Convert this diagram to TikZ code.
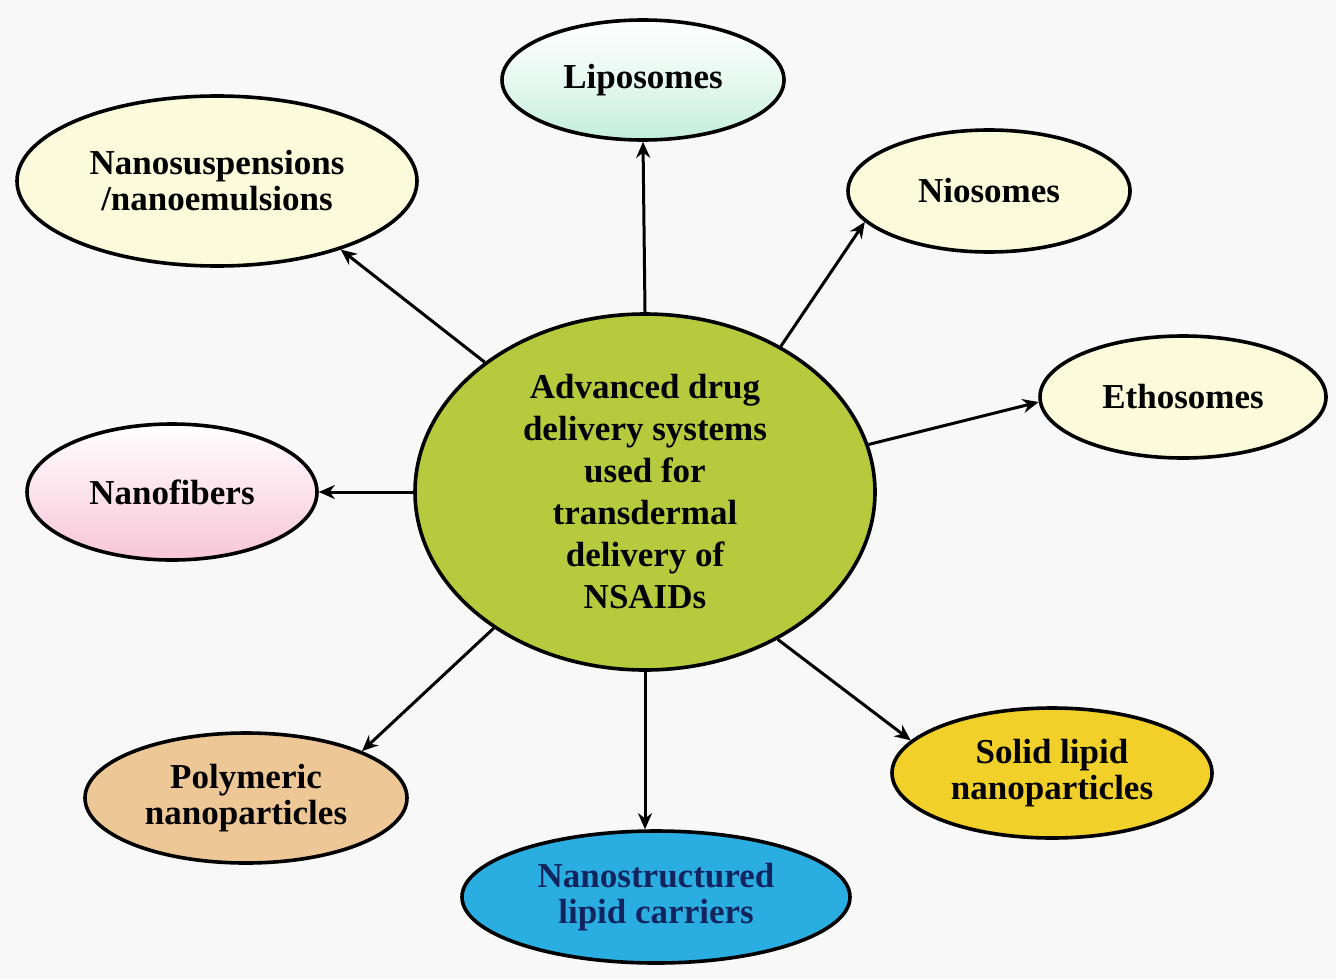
\documentclass[tikz,border=0pt]{standalone}
\usepackage{fontspec}
\setmainfont{Liberation Serif}
\usetikzlibrary{shapes.geometric,arrows.meta}
\definecolor{bg}{HTML}{F8F8F8}
\definecolor{centerfill}{HTML}{B7CA3E}
\definecolor{paleyellow}{HTML}{FBFBDC}
\definecolor{mint}{HTML}{C2EEDC}
\definecolor{pinkish}{HTML}{F8C6D6}
\definecolor{tan}{HTML}{EEC796}
\definecolor{nlcblue}{HTML}{2AAEE2}
\definecolor{nlctext}{HTML}{12245E}
\definecolor{slngold}{HTML}{F1D02A}
\tikzset{
  bubble/.style={ellipse, draw=black, line width=1.8pt, inner sep=0pt,
    align=center, font=\fontsize{17.5}{18}\selectfont\bfseries},
  arr/.style={line width=1.5pt, -{Stealth[length=8pt,width=7pt]}}
}
\begin{document}
\begin{tikzpicture}[x=0.5pt,y=-0.5pt]
\fill[bg] (0,0) rectangle (1336,979);
\useasboundingbox (0,0) rectangle (1336,979);

\node[bubble, fill=centerfill, minimum width=230pt, minimum height=178pt,
  font=\fontsize{17.5}{21}\selectfont\bfseries] (c) at (645,492)
  {Advanced drug\\delivery systems\\used for\\transdermal\\delivery of\\NSAIDs};

\node[bubble, top color=white, bottom color=mint, middle color=white!60!mint,
  minimum width=141pt, minimum height=60pt] (lip) at (643,80) {Liposomes};
\node[bubble, fill=paleyellow, minimum width=200pt, minimum height=85pt] (nano) at (217,181)
  {Nanosuspensions\\/nanoemulsions};
\node[bubble, fill=paleyellow, minimum width=141pt, minimum height=61pt] (nio) at (989,191) {Niosomes};
\node[bubble, fill=paleyellow, minimum width=143pt, minimum height=61pt] (eth) at (1183,397) {Ethosomes};
\node[bubble, top color=white, bottom color=pinkish, middle color=white!50!pinkish,
  minimum width=145pt, minimum height=68pt] (nf) at (172,492) {Nanofibers};
\node[bubble, fill=tan, minimum width=161pt, minimum height=65pt] (poly) at (246,798)
  {Polymeric\\nanoparticles};
\node[bubble, fill=nlcblue, text=nlctext, minimum width=194pt, minimum height=66pt] (nlc) at (656,897)
  {Nanostructured\\lipid carriers};
\node[bubble, fill=slngold, minimum width=160pt, minimum height=65pt] (sln) at (1052,773)
  {Solid lipid\\nanoparticles};

\draw[arr] (c.north) -- (lip.south);
\draw[arr] (c.141) -- (nano.331);
\draw[arr] (c.47) -- (nio.194);
\draw[arr] (c.12) -- (eth.182);
\draw[arr] (c.west) -- (nf.east);
\draw[arr] (c.222) -- (poly.22);
\draw[arr] (c.south) -- (c.south |- nlc.north);
\draw[arr] (c.312) -- (sln.167);
\end{tikzpicture}
\end{document}
